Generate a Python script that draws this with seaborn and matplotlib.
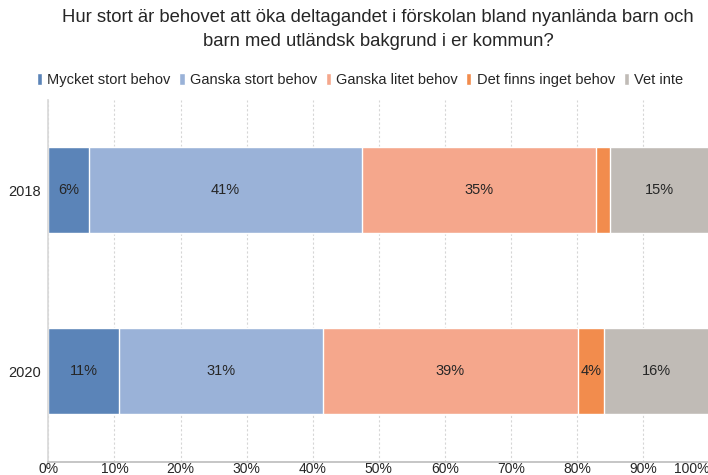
import numpy as np
import pandas as pd
import matplotlib
matplotlib.use("Agg")
import matplotlib.pyplot as plt
import seaborn as sns

# --- Data ---
YEARS = ["2018", "2020"]
CATEGORIES = [
    "Mycket stort behov",
    "Ganska stort behov",
    "Ganska litet behov",
    "Det finns inget behov",
    "Vet inte",
]
VALUES_2018 = [6.1, 41.3, 35.4, 2.1, 15.1]
VALUES_2020 = [10.7, 30.8, 38.6, 4.0, 15.9]
COLORS = ["#5b84b8", "#9ab2d8", "#f5a78c", "#f28c4d", "#c0bbb6"]
TITLE = ("Hur stort är behovet att öka deltagandet i förskolan bland nyanlända barn och\n"
         "barn med utländsk bakgrund i er kommun?")
XTICKS = [0, 10, 20, 30, 40, 50, 60, 70, 80, 90, 100]


def build_frame():
    rows = []
    for year, vals in zip(YEARS, [VALUES_2018, VALUES_2020]):
        cum = np.cumsum(vals)
        for cat, v, c in zip(CATEGORIES, vals, cum):
            rows.append({"year": year, "category": cat, "value": v, "cum": c})
    return pd.DataFrame(rows)


def main():
    df = build_frame()
    sns.set_theme(style="white")
    plt.rcParams["font.family"] = ["Liberation Sans", "DejaVu Sans"]

    fig = plt.figure(figsize=(7.08, 4.75), dpi=100)
    ax = fig.add_axes([0.0682, 0.0274, 0.9338, 0.7621])

    # stacked bars: draw cumulative totals from last to first
    for cat, color in reversed(list(zip(CATEGORIES, COLORS))):
        sub = df[df["category"] == cat]
        sns.barplot(data=sub, x="cum", y="year", order=YEARS, orient="h",
                    color=color, saturation=1, width=0.475, edgecolor="white",
                    linewidth=1, label=cat, ax=ax)
    if ax.get_legend() is not None:
        ax.get_legend().remove()

    # segment labels
    for _, row in df.iterrows():
        if row["value"] < 3:
            continue
        yi = YEARS.index(row["year"])
        ax.text(row["cum"] - row["value"] / 2, yi, f"{round(row['value'])}%",
                ha="center", va="center", fontsize=10.5, color="#262626")

    ax.set_xlim(0, 100)
    ax.set_ylim(1.5, -0.5)
    ax.set_xticks(XTICKS)
    ax.set_xticklabels([f"{t}%" for t in XTICKS])
    ax.get_xticklabels()[-1].set_horizontalalignment("right")
    ax.set_xlabel("")
    ax.set_ylabel("")
    ax.xaxis.grid(True, linestyle=(0, (2, 2)), color="#d6d6d6", linewidth=0.8)
    ax.set_axisbelow(True)

    ax.tick_params(axis="x", length=0, pad=0, labelsize=10, colors="#262626")
    ax.tick_params(axis="y", which="major", length=0, pad=5, labelsize=10.5,
                   colors="#262626")
    ax.set_yticks([-0.5, 0.5, 1.5], minor=True)
    ax.tick_params(axis="y", which="minor", length=6, width=1, color="#d9d9d9")

    for side in ["top", "right"]:
        ax.spines[side].set_visible(False)
    ax.spines["left"].set_color("#d9d9d9")
    ax.spines["bottom"].set_color("#bfbfbf")

    handles, labels = ax.get_legend_handles_labels()
    order = [labels.index(c) for c in CATEGORIES]
    fig.legend([handles[i] for i in order], [labels[i] for i in order],
               loc="center", bbox_to_anchor=(360 / 708, 1 - 80 / 475), ncol=5,
               frameon=False, fontsize=10.5, handlelength=0.35, handleheight=0.8,
               handletextpad=0.35, columnspacing=0.6, borderaxespad=0)

    fig.text(378 / 708, 1 - 9 / 475, TITLE, ha="center", va="top",
             fontsize=13.3, color="#262626", linespacing=1.5)

    fig.savefig("out.png", dpi=100)


if __name__ == "__main__":
    main()
